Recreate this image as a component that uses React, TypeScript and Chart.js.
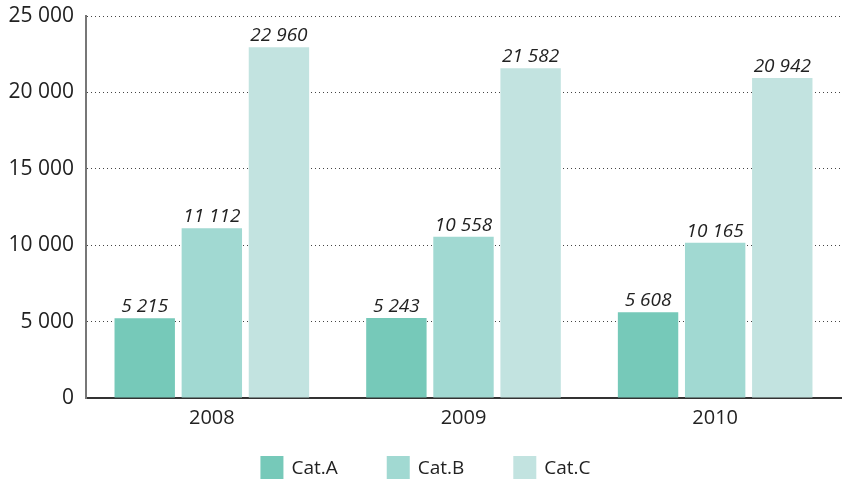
import React, { useEffect, useRef } from "react";
import { Chart, registerables } from "chart.js";
Chart.register(...registerables);

const categories = ["2008", "2009", "2010"];
const seriesNames = ["Cat.A", "Cat.B", "Cat.C"];
const catA = [5215, 5243, 5608];
const catB = [11112, 10558, 10165];
const catC = [22960, 21582, 20942];
const colors = ["#76c9b9", "#a1d9d2", "#c2e3e0"];
const FONT = "'Open Sans', 'Noto Sans', sans-serif";

const fmt = (v: number) => {
  const s = Math.round(v).toString();
  return s.replace(/\B(?=(\d{3})+(?!\d))/g, " ");
};

const labelPlugin = {
  id: "valueLabels",
  afterDatasetsDraw(chart: any) {
    const ctx = chart.ctx;
    ctx.save();
    ctx.font = `italic 19px ${FONT}`;
    ctx.fillStyle = "#222";
    ctx.textAlign = "center";
    ctx.textBaseline = "alphabetic";
    chart.data.datasets.forEach((ds: any, di: number) => {
      const meta = chart.getDatasetMeta(di);
      meta.data.forEach((bar: any, i: number) => {
        ctx.fillText(fmt(ds.data[i]), bar.x, bar.y - 6);
      });
    });
    ctx.restore();
  },
};

const legendPlugin = {
  id: "customLegend",
  afterDraw(chart: any) {
    const ctx = chart.ctx;
    ctx.save();
    ctx.font = `19px ${FONT}`;
    const box = 23;
    const gapText = 8;
    const gapItem = 49;
    const widths = chart.data.datasets.map((d: any) => box + gapText + ctx.measureText(d.label).width);
    const total = widths.reduce((a: number, b: number) => a + b, 0) + gapItem * (widths.length - 1);
    let x = chart.width / 2 - total / 2 + 4;
    const top = chart.chartArea.bottom + 58;
    chart.data.datasets.forEach((d: any, i: number) => {
      ctx.fillStyle = d.backgroundColor;
      ctx.fillRect(x, top, box, box);
      ctx.fillStyle = "#222";
      ctx.textAlign = "left";
      ctx.textBaseline = "middle";
      ctx.fillText(d.label, x + box + gapText, top + box / 2 + 1);
      x += widths[i] + gapItem;
    });
    ctx.restore();
  },
};

export default function App() {
  const ref = useRef<HTMLCanvasElement>(null);
  useEffect(() => {
    if (!ref.current) return;
    const data = [catA, catB, catC];
    const chart = new Chart(ref.current, {
      type: "bar",
      data: {
        labels: categories,
        datasets: seriesNames.map((n, i) => ({
          label: n,
          data: data[i],
          backgroundColor: colors[i],
          borderWidth: 0,
          categoryPercentage: 0.8,
          barPercentage: 0.9,
        })),
      },
      options: {
        responsive: false,
        animation: false,
        layout: { padding: { top: 16, right: 2, left: 0, bottom: 60 } },
        plugins: {
          legend: { display: false },
          tooltip: { enabled: false },
        },
        scales: {
          x: {
            grid: { display: false, drawTicks: false },
            border: { display: true, color: "#333", width: 2 },
            ticks: { color: "#222", font: { family: FONT, size: 20 }, padding: 8 },
            afterFit: (s: any) => { s.height = 32; },
          },
          y: {
            min: 0,
            max: 25000,
            ticks: {
              stepSize: 5000,
              color: "#222",
              font: { family: FONT, size: 21 },
              padding: 12,
              callback: (v: any) => fmt(Number(v)),
            },
            grid: { color: "#444", drawTicks: false, lineWidth: 1 },
            border: { display: true, color: "#777", width: 2, dash: [1, 3] },
            afterFit: (s: any) => { s.width = 86; s.paddingTop = 0; s.paddingBottom = 0; },
          },
        },
      },
      plugins: [labelPlugin, legendPlugin],
    });
    return () => chart.destroy();
  }, []);
  return (
    <div style={{ position: "fixed", left: 0, top: 0, width: 843, height: 490, background: "#fff" }}>
      <canvas ref={ref} width={843} height={490} />
    </div>
  );
}
